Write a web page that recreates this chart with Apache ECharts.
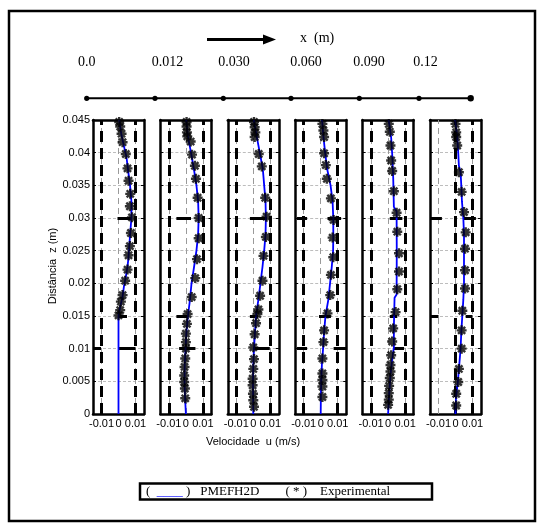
<!DOCTYPE html>
<html><head><meta charset="utf-8">
<script src="https://cdn.jsdelivr.net/npm/echarts@6/dist/echarts.min.js"></script>
<style>html,body{margin:0;padding:0;background:#fff}#c{width:544px;height:528px}</style>
</head><body><div id="c"></div>
<script>
// ---- labels ----
const stationLabels = ['0.0', '0.012', '0.030', '0.060', '0.090', '0.12'];
const xTickValues = [-0.01, 0, 0.01];
const yTitle = 'Distância  z (m)';
const xTitle = 'Velocidade  u (m/s)';

// ---- model (PMEFH2D) profiles: [u, z] ----
const model1 = [[0,0],[0,0.015],[0.001,0.0164],[0.0024,0.018],[0.0033,0.0197],[0.0043,0.021],[0.0053,0.0226],[0.0058,0.0237],[0.0063,0.0256],[0.0069,0.0277],[0.0076,0.03],[0.0076,0.0325],[0.0068,0.035],[0.0058,0.037],[0.0047,0.0393],[0.0032,0.041],[0.0016,0.0429],[0.0004,0.045]];
const model2 = [[0,0],[-0.0005,0.0025],[-0.0008,0.005],[-0.0007,0.0075],[-0.0002,0.01],[0.0003,0.0125],[0.0012,0.015],[0.0024,0.0175],[0.0033,0.02],[0.0048,0.0225],[0.0062,0.025],[0.0072,0.0275],[0.0075,0.03],[0.0072,0.0325],[0.0062,0.035],[0.0047,0.0375],[0.003,0.04],[0.0012,0.0425],[0.0002,0.045]];
const model3 = [[0,0],[-0.0001,0.0025],[-0.0002,0.005],[0,0.0075],[0.0004,0.01],[0.001,0.0125],[0.0016,0.015],[0.003,0.0175],[0.0042,0.02],[0.0054,0.0225],[0.0064,0.025],[0.0072,0.0275],[0.0074,0.03],[0.0072,0.0325],[0.0064,0.035],[0.0056,0.0375],[0.0038,0.04],[0.002,0.0425],[0.0003,0.045]];
const model4 = [[0,0],[0.0001,0.0025],[0.0003,0.005],[0.0007,0.0075],[0.0014,0.01],[0.002,0.0125],[0.0028,0.015],[0.0045,0.0175],[0.0055,0.02],[0.0065,0.0225],[0.0073,0.025],[0.0074,0.0275],[0.0074,0.03],[0.007,0.0325],[0.0058,0.035],[0.0038,0.0375],[0.0026,0.04],[0.0016,0.0425],[0.0008,0.045]];
const model5 = [[0,0],[0.0004,0.002],[0.0014,0.006],[0.0024,0.0084],[0.0034,0.0102],[0.0034,0.0133],[0.0038,0.0178],[0.005,0.0183],[0.0051,0.025],[0.005,0.031],[0.0034,0.0317],[0.003,0.0362],[0.0024,0.0398],[0.0018,0.0423],[0.0004,0.0449],[0.0002,0.045]];
const model6 = [[0,0],[0.0003,0.0025],[0.0014,0.005],[0.0022,0.0075],[0.003,0.01],[0.0034,0.0125],[0.004,0.015],[0.0046,0.0175],[0.005,0.02],[0.005,0.025],[0.005,0.0275],[0.0046,0.03],[0.0038,0.0325],[0.0034,0.035],[0.003,0.037],[0.002,0.038],[0.0016,0.04],[0.001,0.0425],[-0.0002,0.045]];

// ---- experimental points: [u, z] ----
const exp1 = [[0.0004,0.0447],[0.001,0.044],[0.0018,0.0429],[0.0024,0.0416],[0.0043,0.0398],[0.0053,0.0376],[0.0059,0.0357],[0.0069,0.0337],[0.0067,0.0318],[0.0079,0.0301],[0.0073,0.0277],[0.0067,0.0257],[0.0059,0.0243],[0.0053,0.0221],[0.0039,0.0204],[0.0024,0.0182],[0.0014,0.0172],[0.001,0.0159],[0,0.0151]];
const exp2 = [[0.0004,0.0447],[0.0004,0.044],[0.0006,0.0431],[0.0008,0.0425],[0.0028,0.0417],[0.0036,0.0397],[0.0053,0.038],[0.0059,0.036],[0.0069,0.0331],[0.0075,0.03],[0.0075,0.0269],[0.0065,0.0237],[0.0055,0.0208],[0.0034,0.0179],[0.001,0.0153],[0.0006,0.0138],[0,0.0123],[0,0.011],[0,0.01],[-0.0004,0.0085],[-0.0008,0.0072],[-0.001,0.0059],[-0.001,0.0049],[-0.0006,0.0039],[-0.0004,0.0024]];
const exp3 = [[0.0004,0.0447],[0.0008,0.0439],[0.0012,0.0431],[0.0008,0.0424],[0.0032,0.0398],[0.005,0.0379],[0.007,0.0331],[0.0078,0.0302],[0.0074,0.0271],[0.006,0.0242],[0.0054,0.0204],[0.004,0.0181],[0.003,0.016],[0.0024,0.0153],[0.0016,0.0139],[0.0008,0.0122],[0,0.0102],[0.0004,0.0084],[0,0.0069],[-0.0004,0.0054],[-0.0004,0.0044],[-0.0002,0.0031],[0,0.0021],[0.0004,0.0011]];
const exp4 = [[0.001,0.0444],[0.0016,0.0434],[0.002,0.0424],[0.002,0.0399],[0.003,0.0381],[0.0036,0.036],[0.006,0.033],[0.0076,0.0297],[0.007,0.027],[0.0074,0.024],[0.006,0.0213],[0.0056,0.0182],[0.004,0.0154],[0.002,0.0128],[0.0016,0.011],[0.001,0.0085],[0.001,0.0062],[0.001,0.0052],[0.001,0.0042],[0.001,0.0026]];
const exp5 = [[0.0004,0.0444],[0.001,0.0432],[0.0014,0.0411],[0.0018,0.0388],[0.0024,0.0372],[0.0034,0.0341],[0.005,0.0308],[0.0054,0.0279],[0.0064,0.0246],[0.0064,0.0218],[0.0054,0.0191],[0.0044,0.0156],[0.003,0.0131],[0.0024,0.0111],[0.0018,0.009],[0.0014,0.0075],[0.0014,0.0065],[0.001,0.0055],[0.0006,0.0043],[0.0004,0.0032],[0.0004,0.0022],[0,0.0014]];
const exp6 = [[0,0.0444],[0.0004,0.0431],[0.0004,0.0424],[0.001,0.0411],[0.002,0.037],[0.0036,0.034],[0.005,0.0309],[0.006,0.0278],[0.0056,0.0253],[0.0056,0.022],[0.0056,0.0192],[0.004,0.0158],[0.0036,0.0128],[0.0036,0.01],[0.002,0.0069],[0.0016,0.0049],[0.0004,0.0031],[0.0004,0.0013]];

// ---- thick dashed vertical reference lines (u) per panel ----
const walls1 = [-0.01, 0.01];
const walls2 = [-0.01, 0.01];
const walls3 = [-0.01, 0.01];
const walls4 = [-0.01, 0.01];
const walls5 = [-0.01, 0.01];
const walls6 = [0.0005, 0.01];

// ---- thick horizontal segments: [z, u1, u2] ----
const bars1 = [[0.03,-0.0006,0.0073],[0.015,0,0.005],[0.01,-0.015,-0.0103],[0.01,0,0.01]];
const bars2 = [[0.03,-0.0056,0.003],[0.015,-0.0056,0.001],[0.01,-0.004,0.0056]];
const bars3 = [[0.03,-0.002,0.008],[0.015,-0.002,0.0027],[0.01,0,0.0097]];
const bars4 = [[0.03,-0.014,-0.008],[0.03,0.004,0.012],[0.015,-0.001,0.006],[0.01,-0.014,-0.008],[0.01,0.0076,0.015]];
const bars5 = [[0.03,-0.0156,-0.0106],[0.03,0.001,0.0084],[0.015,0.001,0.0054],[0.01,-0.0156,-0.0096],[0.01,0.003,0.0094]];
const bars6 = [[0.03,-0.015,-0.008],[0.03,0.005,0.012],[0.015,-0.015,-0.01],[0.015,0.006,0.01]];

const panels = [
  {model: model1, exp: exp1, walls: walls1, bars: bars1},
  {model: model2, exp: exp2, walls: walls2, bars: bars2},
  {model: model3, exp: exp3, walls: walls3, bars: bars3},
  {model: model4, exp: exp4, walls: walls4, bars: bars4},
  {model: model5, exp: exp5, walls: walls5, bars: bars5},
  {model: model6, exp: exp6, walls: walls6, bars: bars6}
];

const SANS = 'Liberation Sans, Arial, sans-serif';
const SERIF = 'Liberation Serif, Times New Roman, serif';
const starPath = 'path://M0,-9L0,9M-9,0L9,0M-6.4,-6.4L6.4,6.4M-6.4,6.4L6.4,-6.4';

const grids = [], xAxes = [], yAxes = [], series = [];
const axisLineStyle = {color: '#000', width: 2.5};
panels.forEach((p, i) => {
  grids.push({left: 93 + 67.4 * i, top: 120, width: 51, height: 294});
  const xBase = {
    gridIndex: i, type: 'value', min: -0.015, max: 0.015, interval: 0.005,
    axisLine: {show: true, onZero: false, lineStyle: axisLineStyle},
    axisTick: {show: true, inside: true, length: 3, customValues: xTickValues, lineStyle: {color: '#000', width: 1}},
    splitLine: {show: false}
  };
  xAxes.push(Object.assign({}, xBase, {position: 'bottom',
    axisLabel: {show: true, customValues: xTickValues, margin: 4, fontSize: 11, color: '#000', fontFamily: SANS}}));
  xAxes.push(Object.assign({}, xBase, {position: 'top', axisLabel: {show: false}}));
  const yBase = {
    gridIndex: i, type: 'value', min: 0, max: 0.045, interval: 0.005,
    axisLine: {show: true, onZero: false, lineStyle: axisLineStyle},
    axisTick: {show: true, inside: true, length: 3, lineStyle: {color: '#000', width: 1}}
  };
  yAxes.push(Object.assign({}, yBase, {position: 'left',
    axisLabel: {show: i === 0, margin: 3, fontSize: 11, color: '#000', fontFamily: SANS},
    splitLine: {show: true, lineStyle: {color: '#bdbdbd', width: 1, type: [3, 2]}}}));
  yAxes.push(Object.assign({}, yBase, {position: 'right', axisLabel: {show: false}, splitLine: {show: false}}));

  const xi = 2 * i, yi = 2 * i;
  // decorations: grey vertical grid, thick dashed reference lines, thick horizontal bars
  series.push({
    type: 'line', xAxisIndex: xi, yAxisIndex: yi, data: [], z: 1, silent: true,
    markLine: {
      z: 1, silent: true, symbol: ['none', 'none'], label: {show: false}, animation: false,
      data: xTickValues.map(v => ({xAxis: v, lineStyle: {color: '#9a9a9a', width: 1, type: [6, 4]}}))
        .concat(p.walls.map(v => ({xAxis: v, lineStyle: {color: '#000', width: 3, type: [11, 6]}})))
        .concat(p.bars.map(b => [{coord: [b[1], b[0]], lineStyle: {color: '#000', width: 3, type: 'solid'}}, {coord: [b[2], b[0]]}]))
    }
  });
  series.push({
    name: 'PMEFH2D', type: 'line', xAxisIndex: xi, yAxisIndex: yi, data: p.model,
    symbol: 'none', z: 6, lineStyle: {color: '#0000ff', width: 1.8}, silent: true
  });
  series.push({
    name: 'Experimental', type: 'scatter', xAxisIndex: xi, yAxisIndex: yi, data: p.exp,
    symbol: starPath, symbolSize: 10, z: 7, silent: true,
    itemStyle: {color: 'rgba(0,0,0,0)', borderColor: '#000', borderWidth: 2.4}
  });
});

// top schematic
const stationLabelX = [86.7, 167.5, 234, 306, 369, 425.5];
const dotX = [86.7, 155, 223.3, 291, 359.3, 419, 470.7];
const graphic = [
  {type: 'rect', shape: {x: 9, y: 11, width: 526, height: 510}, style: {fill: 'none', stroke: '#000', lineWidth: 2.5}, silent: true},
  {type: 'line', shape: {x1: 207, y1: 39.5, x2: 265, y2: 39.5}, style: {stroke: '#000', lineWidth: 3}},
  {type: 'polygon', shape: {points: [[263, 34.5], [276, 39.5], [263, 44.5]]}, style: {fill: '#000'}},
  {type: 'text', x: 300, y: 38, style: {text: 'x  (m)', font: '14px ' + SERIF, fill: '#000', textVerticalAlign: 'middle'}},
  {type: 'line', shape: {x1: dotX[0], y1: 98.3, x2: dotX[dotX.length - 1], y2: 98.3}, style: {stroke: '#000', lineWidth: 2}},
  {type: 'text', x: 53, y: 266, rotation: Math.PI / 2, style: {text: yTitle, font: '11px ' + SANS, fill: '#000', textAlign: 'center', textVerticalAlign: 'middle'}},
  {type: 'text', x: 253, y: 442, style: {text: xTitle, font: '11px ' + SANS, fill: '#000', textAlign: 'center', textVerticalAlign: 'middle'}},
  {type: 'rect', shape: {x: 140, y: 483.5, width: 292, height: 16}, style: {fill: '#fff', stroke: '#000', lineWidth: 2.5}},
  {type: 'text', x: 146, y: 491.5, style: {
    text: '(  {b|____} )   PMEFH2D        ( * )    Experimental',
    font: '13px ' + SERIF, fill: '#000', textVerticalAlign: 'middle',
    rich: {b: {fill: '#0000ff', font: '13px ' + SERIF}}
  }}
];
stationLabels.forEach((t, k) => graphic.push({type: 'text', x: stationLabelX[k], y: 62,
  style: {text: t, font: '14px ' + SERIF, fill: '#000', textAlign: 'center', textVerticalAlign: 'middle'}}));
dotX.forEach((x, k) => graphic.push({type: 'circle', shape: {cx: x, cy: 98.3, r: k === dotX.length - 1 ? 3.2 : 2.6}, style: {fill: '#000'}}));

const chart = echarts.init(document.getElementById('c'));
chart.setOption({
  animation: false,
  backgroundColor: '#fff',
  grid: grids, xAxis: xAxes, yAxis: yAxes, series: series, graphic: graphic
});
</script></body></html>
